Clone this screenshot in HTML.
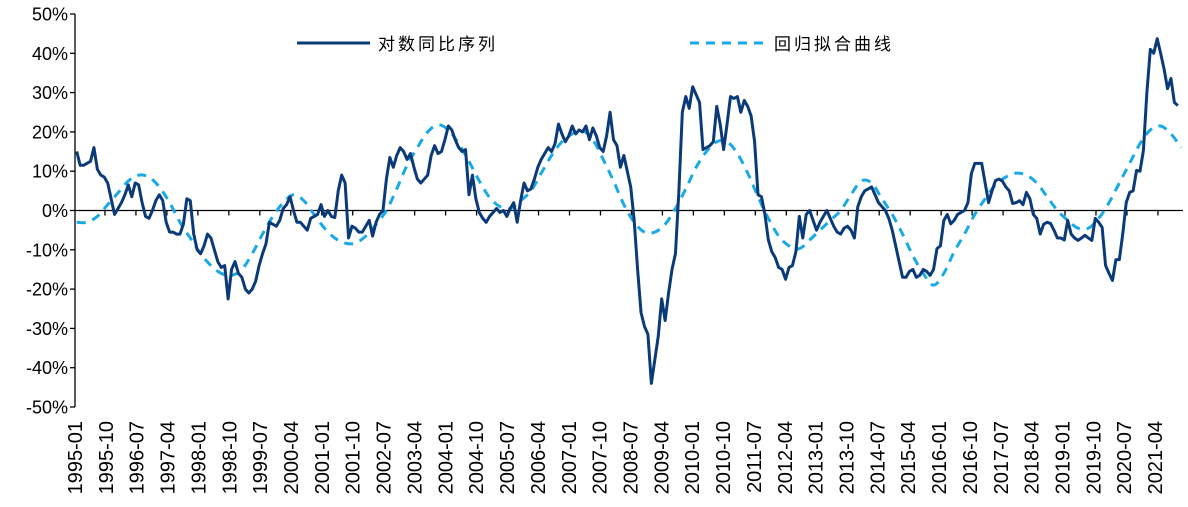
<!DOCTYPE html>
<html><head><meta charset="utf-8">
<style>
html,body{margin:0;padding:0;background:#fff;}
svg{display:block;}
text{font-family:"Liberation Sans","Noto Sans CJK SC",sans-serif;}
</style></head>
<body>
<svg id="chart" width="1188" height="507" viewBox="0 0 1188 507" xmlns="http://www.w3.org/2000/svg"></svg>
<script>
const yTicks = [50,40,30,20,10,0,-10,-20,-30,-40,-50];
const startYear = 1995, startMonth = 1, monthCount = 322;
const labelStep = 9;
const logYoY = [15,11.5,11.5,12,12.5,16,10.5,9,8.5,7,3,-1,0.5,2,4,6.5,3.5,7,6.5,2,-1.5,-2,0,2.5,4,2.5,-3,-5.5,-5.5,-6,-6,-3.5,3,2.5,-6,-10,-11,-9,-6,-7,-10,-13,-14.5,-14,-22.5,-15,-13,-16,-17,-20,-21,-20,-18,-14,-11,-8.5,-3,-3.5,-4,-2.5,0.5,1.5,3.5,0,-3,-3,-4,-5,-2,-1.5,-1,1.5,-1.5,0,-1.5,-1.8,5,9,7,-7,-4,-4.5,-5.5,-5.5,-4,-2.5,-6.5,-3,-1,0,8,13.5,11,14,16,15,13,14.5,11,8,7,8,9,14,16.5,14.5,15,18,21.5,20.5,18,16,15,15.5,4,9,3,-0.5,-2,-3,-1.5,-0.5,0.5,-0.5,0,-1.5,0.5,2,-3,2.5,7,5,5.5,8,11,13,14.5,16,15,17,22,19.5,17.5,19,21.5,19.5,20.5,20,21.5,18,21,19,16,15,19,25,18,16.5,11,14,10,6,-2.5,-15,-26,-29.5,-31.5,-44,-38,-32,-22.5,-28,-21,-15,-11,5,25,29,26,31.5,29.5,27.5,15.5,16,16.5,17.5,26.5,22,15.5,22,29,28.5,29,25,28,26.5,24,17.5,4,3.5,-1,-7.5,-10.5,-12,-14.5,-15,-17.5,-14.5,-14,-10.5,-1.5,-7,-1,0,-2.5,-5,-3,-1.5,0,-2,-4,-5.5,-6,-4.5,-4,-5,-7,1,3.5,5,5.5,6,4,2,1,0,-2,-5,-9,-13,-17,-17,-15.5,-15,-17,-16.5,-15,-15.5,-16.5,-15,-9.7,-9,-2.5,-1,-3.4,-2.5,-1,-0.5,0,2,9.4,12,12,12,7,2,5,7.6,8,7.5,6,5,1.8,2,2.5,1.5,4.6,3,-1,-2,-6,-3.5,-3,-3.3,-5,-7,-7,-7.5,-2.5,-6,-7,-7.6,-7,-6.3,-7,-7.6,-2,-3,-4.3,-14,-16,-17.8,-12.5,-12.5,-5.9,2,4.6,5,10.2,10,15.3,30,41,40,43.7,40,36,31,33.6,27.5,26.7];
const fitStep = 3;
const fitCurve = [-3,-3,-1.5,1.5,4.5,7.5,9,8.5,6,2,-3,-7,-11,-14,-16,-16.5,-15,-11,-6,-1.5,2,4,2.5,-1,-4.5,-7,-8.3,-8.3,-6.5,-3.5,0,5.5,11.5,16,20,21.8,20.5,17,12.5,7.5,3.3,1,0.5,2.5,5,9.5,14,17.5,19.5,20.3,18,13,7.5,1.5,-3,-5.5,-5.5,-3.5,0.5,5.5,11,15,17.5,17.5,14.5,9.5,3.5,-2,-6.5,-9,-9.7,-7.5,-5,-2.5,0,4,7.5,7,3,-1,-6,-11.5,-16,-19,-16,-10.5,-6,-1,3,6.5,8.5,9.5,9,7,3.5,0,-2.5,-4.5,-4.5,-2,2,7,12,17,20.5,21.5,19.5,16];

const NS="http://www.w3.org/2000/svg";
const svg=document.getElementById('chart');
const X0=75, X1=1183, Y50=14, Ym50=407;
const step=(X1-X0)/monthCount;
function xPos(i){return X0+(i+0.5)*step;}
function yPos(v){return Y50+(50-v)*(Ym50-Y50)/100;}
function mk(tag,attrs){const e=document.createElementNS(NS,tag);for(const k in attrs)e.setAttribute(k,attrs[k]);svg.appendChild(e);return e;}

let ya=mk('line',{x1:X0,y1:Y50,x2:X0,y2:Ym50,stroke:'#000','stroke-width':1.3});


yTicks.forEach(v=>{
  const y=yPos(v);
  const t=mk('line',{x1:X0-5,y1:y,x2:X0,y2:y,stroke:'#000','stroke-width':1.3});
  
  
  const l=mk('text',{x:X0-7,y:y+6.5,'text-anchor':'end','font-size':18,fill:'#000'});
  l.textContent=v+'%';
  
  
});
const y0=yPos(0);
let xa=mk('line',{x1:X0,y1:y0,x2:X1,y2:y0,stroke:'#000','stroke-width':1.3});


const labelSpacing=30.86/labelStep;
for(let i=0;i<monthCount;i+=labelStep){
  const tx=X0+i*step-1;
  if(i>0){
    const t=mk('line',{x1:tx,y1:y0,x2:tx,y2:y0+5,stroke:'#000','stroke-width':1.3});
    
    
  }
  const m=startMonth-1+i, yr=startYear+Math.floor(m/12), mo=(m%12)+1;
  const lx=X0+i*labelSpacing+7;
  const l=mk('text',{x:lx,y:421,transform:`rotate(-90 ${lx} 421)`,'text-anchor':'end','font-size':20,fill:'#000'});
  l.textContent=yr+'-'+String(mo).padStart(2,'0');
  
  
}
const fp=fitCurve.map((v,k)=>[xPos(k*fitStep),yPos(v)]);
let d=`M${fp[0][0]},${fp[0][1]}`;
for(let k=0;k<fp.length-1;k++){
  const p0=fp[Math.max(0,k-1)],p1=fp[k],p2=fp[k+1],p3=fp[Math.min(fp.length-1,k+2)];
  const c1=[p1[0]+(p2[0]-p0[0])/6,p1[1]+(p2[1]-p0[1])/6];
  const c2=[p2[0]-(p3[0]-p1[0])/6,p2[1]-(p3[1]-p1[1])/6];
  d+=` C${c1[0]},${c1[1]} ${c2[0]},${c2[1]} ${p2[0]},${p2[1]}`;
}
const fitPath=mk('path',{d:d,fill:'none',stroke:'#19a9e6','stroke-width':3,'stroke-dasharray':'9 7'});


const pts=logYoY.map((v,i)=>xPos(i)+','+yPos(v)).join(' ');
const main=mk('polyline',{points:pts,fill:'none',stroke:'#0b3a78','stroke-width':3,'stroke-linejoin':'round'});


const lg1=mk('line',{x1:297,y1:43,x2:370,y2:43,stroke:'#0b3a78','stroke-width':3});


const lt1=mk('text',{x:378,y:50,'font-size':17,fill:'#000','letter-spacing':'3'});
lt1.textContent='对数同比序列';


const lg2=mk('line',{x1:690,y1:43,x2:766,y2:43,stroke:'#19a9e6','stroke-width':3,'stroke-dasharray':'9 7'});


const lt2=mk('text',{x:774,y:50,'font-size':17,fill:'#000','letter-spacing':'3'});
lt2.textContent='回归拟合曲线';


</script>
</body></html>
